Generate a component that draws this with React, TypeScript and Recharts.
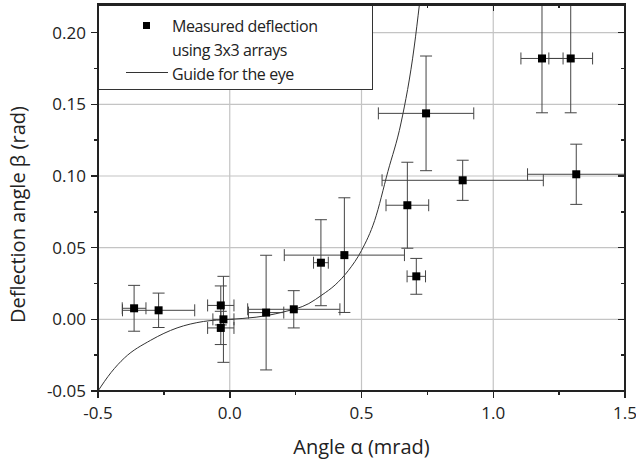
import React from "react";
import {
  ComposedChart,
  Scatter,
  Line,
  XAxis,
  YAxis,
  ErrorBar,
  ReferenceLine,
} from "recharts";

const alpha = [-0.363, -0.27, -0.034, -0.024, -0.034, 0.138, 0.243, 0.346, 0.435, 0.674, 0.708, 0.745, 0.884, 1.185, 1.294, 1.315];
const beta = [0.0077, 0.0063, 0.0097, 0.0, -0.006, 0.0047, 0.007, 0.0395, 0.0448, 0.0796, 0.03, 0.1437, 0.097, 0.182, 0.182, 0.1012];
const alphaErr = [0.045, 0.137, 0.05, 0.04, 0.05, 0.067, 0.175, 0.028, 0.228, 0.081, 0.035, 0.181, 0.306, 0.08, 0.083, 0.1849];
const betaErr = [0.016, 0.012, 0.0136, 0.03, 0.0116, 0.04, 0.013, 0.03, 0.04, 0.03, 0.0125, 0.04, 0.014, 0.0379, 0.0379, 0.021];

// guide for the eye
const guideX = [-0.5, -0.45, -0.4, -0.3, -0.2, -0.1, 0, 0.1, 0.2, 0.3, 0.35, 0.4, 0.45, 0.5, 0.55, 0.6, 0.65, 0.7, 0.72];
const guideY = [-0.05, -0.037, -0.027, -0.0146, -0.006, -0.0015, 0, 0.0015, 0.005, 0.011, 0.017, 0.024, 0.034, 0.048, 0.069, 0.103, 0.137, 0.19, 0.22];

const xDomain = [-0.5, 1.5];
const yDomain = [-0.05, 0.22];
const xTicks = [-0.5, -0.25, 0, 0.25, 0.5, 0.75, 1.0, 1.25, 1.5];
const yTicks = [-0.05, -0.025, 0, 0.025, 0.05, 0.075, 0.1, 0.125, 0.15, 0.175, 0.2];
const xGrid = [0, 0.5, 1.0];
const yGrid = [0, 0.05, 0.1, 0.15, 0.2];

const points = alpha.map((x, i) => ({ x, y: beta[i], ex: alphaErr[i], ey: betaErr[i] }));
const guide = guideX.map((x, i) => ({ x, y: guideY[i] }));

const W = 636;
const H = 461;
const M = { top: 4, right: 11, left: 0, bottom: 0 };
const Y_AXIS_W = 98;
const X_AXIS_H = 70;

// plot box, same as the one recharts lays out from the margins above
const box = {
  left: M.left + Y_AXIS_W,
  right: W - M.right,
  top: M.top,
  bottom: H - M.bottom - X_AXIS_H,
};
const sx = (v: number) => box.left + ((v - xDomain[0]) / (xDomain[1] - xDomain[0])) * (box.right - box.left);
const sy = (v: number) => box.bottom - ((v - yDomain[0]) / (yDomain[1] - yDomain[0])) * (box.bottom - box.top);

const FONT = "'Open Sans', sans-serif";
const INK = "#222";

const isMajor = (v: number, step: number) => Math.abs(v / step - Math.round(v / step)) < 1e-6;

const BottomLabel = (props: any) => {
  const { x, y, payload } = props;
  if (!isMajor(payload.value, 0.5)) return <g />;
  return (
    <text x={x} y={y + 28} textAnchor="middle" fontSize={17} fontFamily={FONT} fill={INK}>
      {payload.value.toFixed(1)}
    </text>
  );
};

const LeftLabel = (props: any) => {
  const { x, y, payload } = props;
  if (!isMajor(payload.value, 0.05)) return <g />;
  return (
    <text x={x - 12} y={y + 6} textAnchor="end" fontSize={17} fontFamily={FONT} fill={INK}>
      {payload.value.toFixed(2)}
    </text>
  );
};

const Square = (props: any) => (
  <rect x={props.cx - 4} y={props.cy - 4} width={8} height={8} fill="#000" />
);

const mark = (left: number, top: number, width: number, height: number) => ({
  position: "absolute" as const,
  left,
  top,
  width,
  height,
  background: INK,
});

export default function App() {
  return (
    <div style={{ position: "absolute", left: 0, top: 0, width: W, height: H, background: "#fff" }}>
      <ComposedChart width={W} height={H} margin={M}>
        <XAxis
          xAxisId="b"
          dataKey="x"
          type="number"
          domain={xDomain}
          ticks={xTicks}
          interval={0}
          height={X_AXIS_H}
          tickSize={0}
          tickMargin={0}
          tickLine={false}
          axisLine={false}
          tick={<BottomLabel />}
        />
        <YAxis
          yAxisId="l"
          dataKey="y"
          type="number"
          domain={yDomain}
          ticks={yTicks}
          interval={0}
          width={Y_AXIS_W}
          tickSize={0}
          tickMargin={0}
          tickLine={false}
          axisLine={false}
          tick={<LeftLabel />}
        />
        {xGrid.map((v) => (
          <ReferenceLine key={"gx" + v} x={v} xAxisId="b" yAxisId="l" stroke="#c4c4c4" strokeWidth={1.2} />
        ))}
        {yGrid.map((v) => (
          <ReferenceLine key={"gy" + v} y={v} xAxisId="b" yAxisId="l" stroke="#c4c4c4" strokeWidth={1.2} />
        ))}
        <Line
          xAxisId="b"
          yAxisId="l"
          data={guide}
          dataKey="y"
          type="monotone"
          dot={false}
          stroke="#333"
          strokeWidth={1}
          isAnimationActive={false}
        />
        <Scatter
          xAxisId="b"
          yAxisId="l"
          data={points}
          dataKey="y"
          shape={<Square />}
          isAnimationActive={false}
        >
          <ErrorBar dataKey="ex" direction="x" width={6} stroke="#444" strokeWidth={1} />
          <ErrorBar dataKey="ey" direction="y" width={6} stroke="#444" strokeWidth={1} />
        </Scatter>
      </ComposedChart>

      {/* axis titles */}
      <svg width={W} height={H} style={{ position: "absolute", left: 0, top: 0, pointerEvents: "none" }}>
        <text x={(box.left + box.right) / 2} y={454} textAnchor="middle" fontSize={20} fontFamily={FONT} fill={INK}>
          Angle α (mrad)
        </text>
        <text
          x={0}
          y={0}
          transform={`translate(25 ${(box.top + box.bottom) / 2 + 17}) rotate(-90)`}
          textAnchor="middle"
          fontSize={20}
          fontFamily={FONT}
          fill={INK}
        >
          Deflection angle β (rad)
        </text>
      </svg>

      {/* frame */}
      <div
        style={{
          position: "absolute",
          left: box.left - 1,
          top: box.top - 1.5,
          width: box.right - box.left + 2,
          height: box.bottom - box.top + 2.5,
          boxSizing: "border-box",
          borderTop: `3px solid ${INK}`,
          borderLeft: `2px solid ${INK}`,
          borderRight: `2px solid ${INK}`,
          borderBottom: `2px solid ${INK}`,
          pointerEvents: "none",
        }}
      />

      {/* tick marks: outward at bottom/left, inward at top/right */}
      {xTicks.map((v) => {
        const len = isMajor(v, 0.5) ? 7 : 4;
        return (
          <React.Fragment key={"tx" + v}>
            <div style={mark(sx(v) - 0.75, box.bottom, 1.5, len)} />
            <div style={mark(sx(v) - 0.75, box.top, 1.5, len)} />
          </React.Fragment>
        );
      })}
      {yTicks.map((v) => {
        const len = isMajor(v, 0.05) ? 7 : 4;
        return (
          <React.Fragment key={"ty" + v}>
            <div style={mark(box.left - len, sy(v) - 0.75, len, 1.5)} />
            <div style={mark(box.right - len, sy(v) - 0.75, len, 1.5)} />
          </React.Fragment>
        );
      })}

      <div
        style={{
          position: "absolute",
          left: 99,
          top: 5.5,
          width: 274,
          height: 84.5,
          boxSizing: "border-box",
          background: "#fff",
          borderRight: "1.5px solid #333",
          borderBottom: "1.5px solid #333",
          fontFamily: FONT,
          fontSize: 16,
          letterSpacing: -0.4,
          color: INK,
        }}
      >
        <div style={{ position: "absolute", left: 44, top: 16, width: 7, height: 7, background: "#000" }} />
        <div style={{ position: "absolute", left: 73, top: 8, lineHeight: "24px", whiteSpace: "nowrap" }}>
          Measured deflection
          <br />
          using 3x3 arrays
          <br />
          Guide for the eye
        </div>
        <div style={{ position: "absolute", left: 27, top: 66, width: 42, height: 1, background: "#333" }} />
      </div>
    </div>
  );
}
